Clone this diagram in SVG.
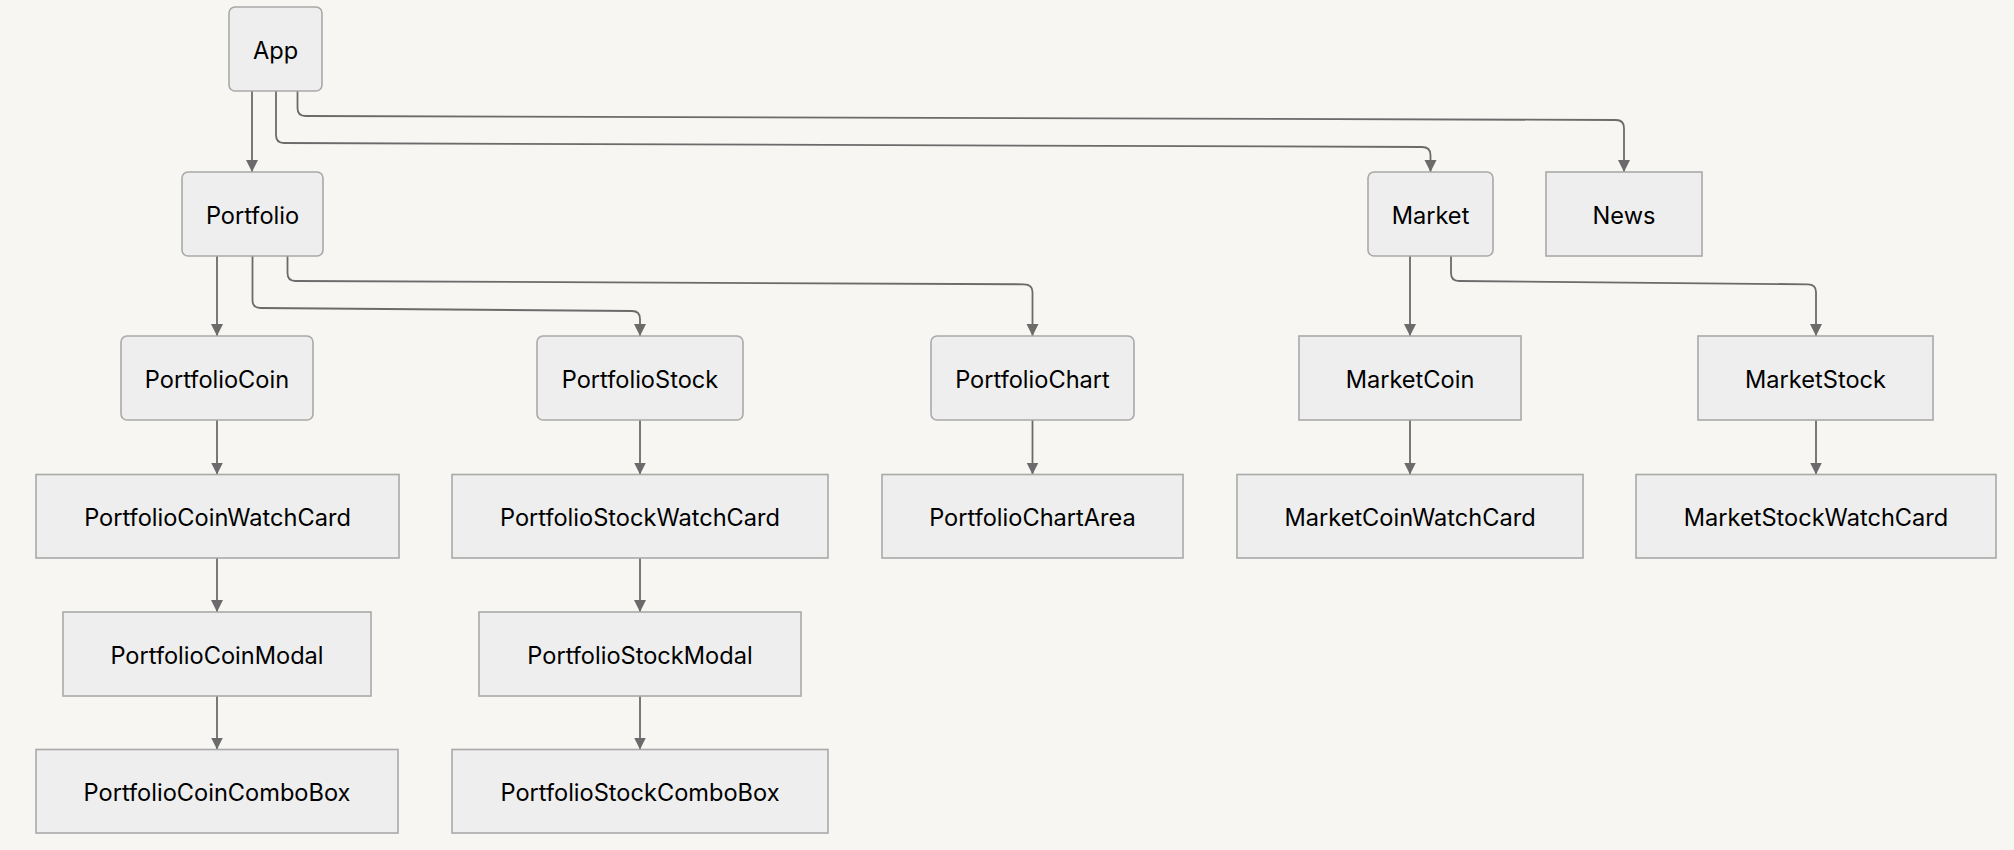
<svg xmlns="http://www.w3.org/2000/svg" width="2014" height="850" viewBox="0 0 2014 850">
<style>
.n rect{fill:#eeeeee;stroke:#a9a9a9;stroke-width:1.6}
.n text{font-family:Inter,"Noto Sans","Liberation Sans",sans-serif;font-size:23.6px;fill:#000;text-anchor:middle;dominant-baseline:central}
.e path{fill:none;stroke:#6b6b6b;stroke-width:1.8;marker-end:url(#arr)}
</style>
<defs>
<marker id="arr" markerUnits="userSpaceOnUse" markerWidth="14" markerHeight="14" refX="12" refY="6" orient="auto">
<path d="M0,0 L12,6 L0,12 z" fill="#6b6b6b"/>
</marker>
</defs>
<rect x="0" y="0" width="2014" height="850" fill="#f7f6f3"/>
<g id="connectors" class="e">
<path d="M252,91 V172"/>
<path d="M276,91 V135 Q276,143 284,143 L1422,147 Q1430.5,147 1430.5,155 V172"/>
<path d="M297.5,91 V108 Q297.5,116 305.5,116 L1616,120 Q1624,120 1624,128 V172"/>
<path d="M217,256 V336"/>
<path d="M252.5,256 V300 Q252.5,308 260.5,308 L632,311 Q640,311 640,319 V336"/>
<path d="M287.5,256 V273 Q287.5,281 295.5,281 L1024,284.3 Q1032.5,284.3 1032.5,292 V336"/>
<path d="M217,420 V474.5"/>
<path d="M217,558 V612"/>
<path d="M217,696 V749.5"/>
<path d="M640,420 V474.5"/>
<path d="M640,558 V612"/>
<path d="M640,696 V749.5"/>
<path d="M1032.5,420 V474.5"/>
<path d="M1410,256 V336"/>
<path d="M1451,256 V273 Q1451,281 1459,281 L1808,284.3 Q1816,284.3 1816,292 V336"/>
<path d="M1410,420 V474.5"/>
<path d="M1816,420 V474.5"/>
</g>
<g id="App" class="n"><rect x="229" y="7" width="93" height="84" rx="6"/><text x="275.5" y="50">App</text></g>
<g id="Portfolio" class="n"><rect x="182" y="172" width="141" height="84" rx="6"/><text x="252.5" y="215">Portfolio</text></g>
<g id="Market" class="n"><rect x="1368" y="172" width="125" height="84" rx="6"/><text x="1430.5" y="215">Market</text></g>
<g id="News" class="n"><rect x="1546" y="172" width="156" height="84"/><text x="1624" y="215">News</text></g>
<g id="PortfolioCoin" class="n"><rect x="121" y="336" width="192" height="84" rx="6"/><text x="217" y="379">PortfolioCoin</text></g>
<g id="PortfolioStock" class="n"><rect x="537" y="336" width="206" height="84" rx="6"/><text x="640" y="379">PortfolioStock</text></g>
<g id="PortfolioChart" class="n"><rect x="931" y="336" width="203" height="84" rx="6"/><text x="1032.5" y="379">PortfolioChart</text></g>
<g id="MarketCoin" class="n"><rect x="1299" y="336" width="222" height="84"/><text x="1410" y="379">MarketCoin</text></g>
<g id="MarketStock" class="n"><rect x="1698" y="336" width="235" height="84"/><text x="1815.5" y="379">MarketStock</text></g>
<g id="PortfolioCoinWatchCard" class="n"><rect x="36" y="474.5" width="363" height="83.5"/><text x="217.5" y="517">PortfolioCoinWatchCard</text></g>
<g id="PortfolioStockWatchCard" class="n"><rect x="452" y="474.5" width="376" height="83.5"/><text x="640" y="517">PortfolioStockWatchCard</text></g>
<g id="PortfolioChartArea" class="n"><rect x="882" y="474.5" width="301" height="83.5"/><text x="1032.5" y="517">PortfolioChartArea</text></g>
<g id="MarketCoinWatchCard" class="n"><rect x="1237" y="474.5" width="346" height="83.5"/><text x="1410" y="517">MarketCoinWatchCard</text></g>
<g id="MarketStockWatchCard" class="n"><rect x="1636" y="474.5" width="360" height="83.5"/><text x="1816" y="517">MarketStockWatchCard</text></g>
<g id="PortfolioCoinModal" class="n"><rect x="63" y="612" width="308" height="84"/><text x="217" y="655">PortfolioCoinModal</text></g>
<g id="PortfolioStockModal" class="n"><rect x="479" y="612" width="322" height="84"/><text x="640" y="655">PortfolioStockModal</text></g>
<g id="PortfolioCoinComboBox" class="n"><rect x="36" y="749.5" width="362" height="83.5"/><text x="217" y="792.5">PortfolioCoinComboBox</text></g>
<g id="PortfolioStockComboBox" class="n"><rect x="452" y="749.5" width="376" height="83.5"/><text x="640" y="792.5">PortfolioStockComboBox</text></g>
</svg>
